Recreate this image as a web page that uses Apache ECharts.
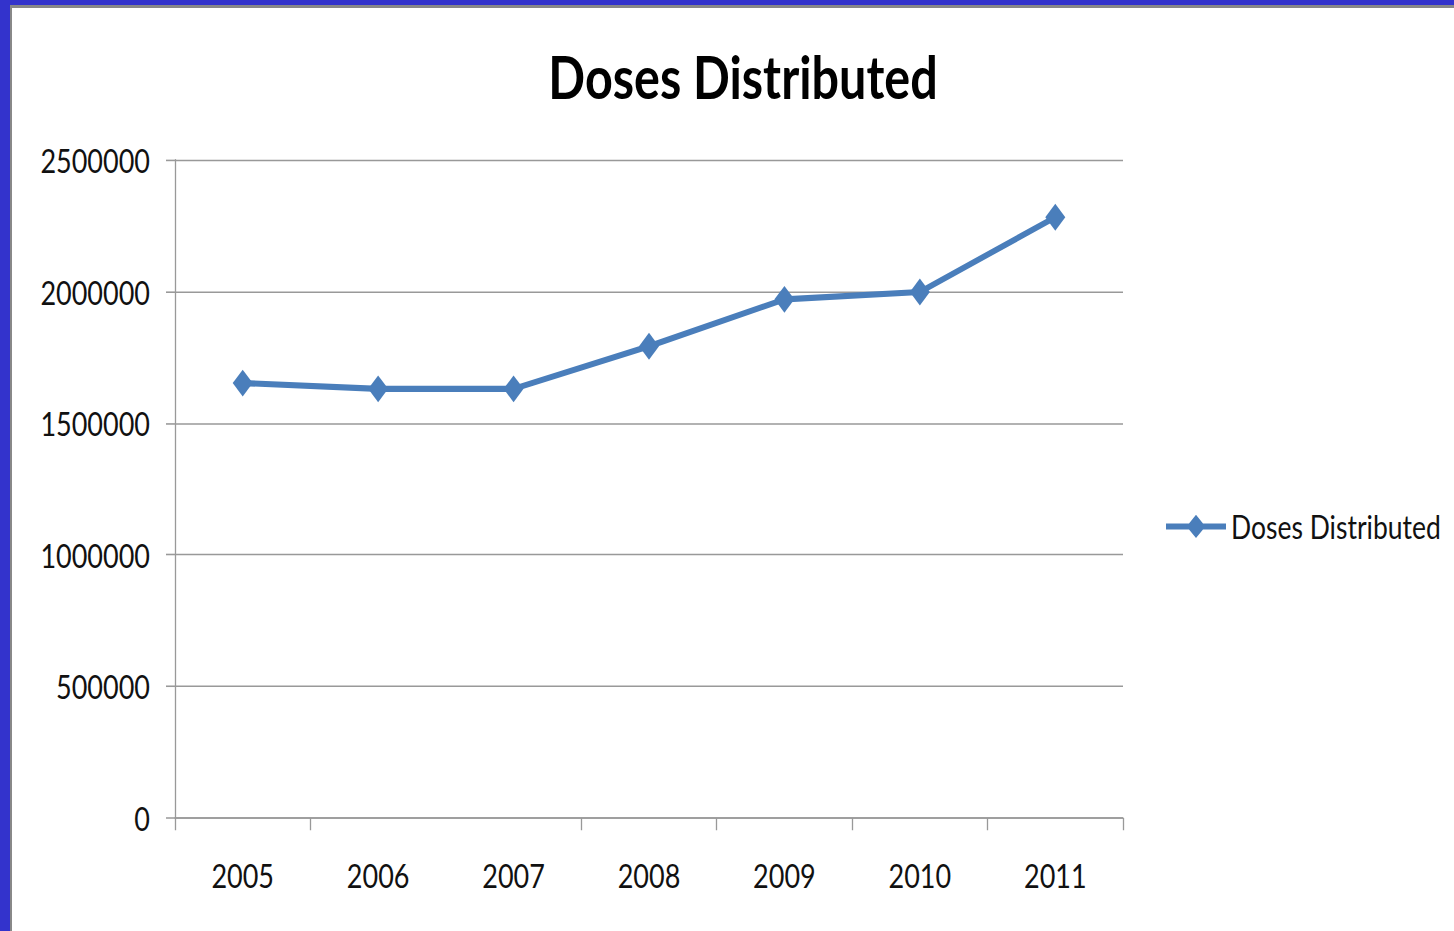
<!DOCTYPE html>
<html>
<head>
<meta charset="utf-8">
<script src="https://cdn.jsdelivr.net/npm/echarts@6/dist/echarts.min.js"></script>
<style>
html,body{margin:0;padding:0;background:#fff;overflow:hidden;}
#wrap{position:absolute;left:0;top:0;width:1454px;height:931px;overflow:hidden;background:#fff;}
#chart{position:absolute;left:0;top:0;width:1454px;height:763px;transform:scaleY(1.22);transform-origin:0 0;}
.b{position:absolute;}
</style>
</head>
<body>
<div id="wrap">
  <div id="chart"></div>
  <div class="b" style="left:0;top:0;width:1454px;height:8px;background:#888;"></div>
  <div class="b" style="left:0;top:0;width:12px;height:931px;background:#888;"></div>
  <div class="b" style="left:0;top:0;width:1454px;height:5px;background:#3333cc;"></div>
  <div class="b" style="left:0;top:0;width:10px;height:931px;background:#3333cc;"></div>
</div>
<script>
const titleText = 'Doses Distributed';
const seriesName = 'Doses Distributed';
const years = ['2005', '2006', '2007', '2008', '2009', '2010', '2011'];
const doses = [1652000, 1630000, 1630000, 1792000, 1970000, 1998000, 2282000];
const yTicks = [0, 500000, 1000000, 1500000, 2000000, 2500000];

const chart = echarts.init(document.getElementById('chart'), null, {renderer: 'svg', width: 1454, height: 763});
const font = 'Lato, "Open Sans", sans-serif';
const blue = '#4a7ebb';

chart.setOption({
  animation: false,
  backgroundColor: '#fff',
  title: {
    text: titleText,
    left: 738,
    textAlign: 'center',
    top: 33,
    textStyle: {fontFamily: font, fontWeight: 'bold', fontSize: 48.5, color: '#000'}
  },
  legend: {
    left: 1161,
    top: 413,
    orient: 'vertical',
    itemWidth: 60,
    itemHeight: 19,
    itemGap: 0,
    textStyle: {fontFamily: font, fontSize: 26.5, color: '#111'},
    data: [{name: seriesName, icon: 'path://M0,7 L23,7 L30,0 L37,7 L60,7 L60,12 L37,12 L30,19 L23,12 L0,12 Z'}]
  },
  grid: {left: 175, right: 331, top: 131, bottom: 92.5, containLabel: false},
  xAxis: {
    type: 'category',
    data: years,
    boundaryGap: true,
    axisLine: {show: true, lineStyle: {color: '#999', width: 1.3}},
    axisTick: {show: true, length: 10, lineStyle: {color: '#999', width: 1.3},
      interval: function (idx) { return idx !== 2; }},
    axisLabel: {fontFamily: font, fontSize: 27, color: '#111', margin: 33, interval: 0},
    splitLine: {show: false}
  },
  yAxis: {
    type: 'value',
    min: yTicks[0],
    max: yTicks[yTicks.length - 1],
    interval: yTicks[1] - yTicks[0],
    axisLine: {show: true, lineStyle: {color: '#999', width: 1.3}},
    axisTick: {show: true, length: 9, lineStyle: {color: '#999', width: 1.3}},
    axisLabel: {fontFamily: font, fontSize: 27, color: '#111', margin: 25,
      formatter: function (v) { return String(v); }},
    splitLine: {show: true, lineStyle: {color: '#999', width: 1.3}}
  },
  series: [{
    name: seriesName,
    type: 'line',
    data: doses,
    symbol: 'diamond',
    symbolSize: [20, 22],
    lineStyle: {color: blue, width: 5},
    itemStyle: {color: blue},
    emphasis: {disabled: true}
  }]
});
</script>
</body>
</html>
